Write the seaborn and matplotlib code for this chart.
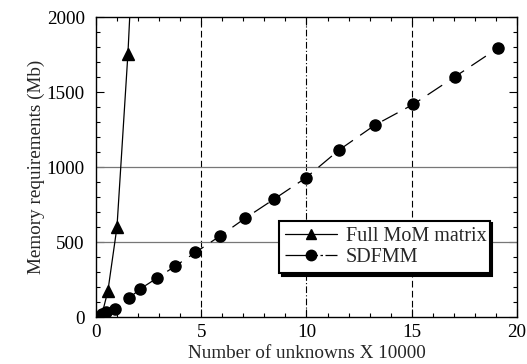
import numpy as np
import pandas as pd
import seaborn as sns
import matplotlib.pyplot as plt
from matplotlib.ticker import MultipleLocator

# 數據
mom_x = [0.27, 0.57, 1.0, 1.52]
mom_y = [8, 175, 600, 1755]
# 曲線延伸超出上緣
mom_curve_x = [0.0, 0.27, 0.57, 1.0, 1.52, 1.64]
mom_curve_y = [0, 8, 175, 600, 1755, 2100]

sdfmm_x = [0.27, 0.47, 0.9, 1.58, 2.1, 2.88, 3.75, 4.73, 5.89, 7.08,
           8.47, 9.96, 11.54, 13.25, 15.07, 17.05, 19.11]
sdfmm_y = [20, 35, 55, 127, 187, 258, 338, 431, 540, 658,
           787, 927, 1113, 1280, 1418, 1602, 1795]

x_ticks = [0, 5, 10, 15, 20]
y_ticks = [0, 500, 1000, 1500, 2000]

sns.set_style("ticks")
plt.rcParams['font.family'] = ['Liberation Serif', 'DejaVu Serif']

fig = plt.figure(figsize=(5.27, 3.64), dpi=100)
ax = fig.add_axes([0.182, 0.129, 0.799, 0.824])

# 參考線
for xv, ls in [(5, (0, (6, 3))), (10, (0, (6, 2, 1, 2))), (15, (0, (6, 3)))]:
    ax.axvline(xv, color='black', lw=0.8, ls=ls, zorder=1)
for yv in [500, 1000]:
    ax.axhline(yv, color='#777777', lw=0.9, zorder=1)

# Full MoM
sns.lineplot(x=mom_curve_x, y=mom_curve_y, ax=ax, color='black', lw=0.9,
             sort=False, estimator=None, legend=False, zorder=3)
ax.plot(mom_x, mom_y, ls='none', marker='^', ms=8, color='black', zorder=4)

# SDFMM
sns.lineplot(x=sdfmm_x, y=sdfmm_y, ax=ax, color='black', lw=0.9,
             linestyle=(0, (14, 7)), sort=False, estimator=None,
             legend=False, zorder=3)
ax.plot(sdfmm_x, sdfmm_y, ls='none', marker='o', ms=8, color='black', zorder=4)

# 圖例
h1, = ax.plot([], [], color='black', lw=0.9, marker='^', ms=6.5)
h2, = ax.plot([], [], color='black', lw=0.9, ls=(0, (26, 2, 2, 2)), marker='o', ms=7.5)
leg = ax.legend([h1, h2], ['Full MoM matrix', 'SDFMM'],
                loc='lower left', bbox_to_anchor=(0.435, 0.147, 0.5, 0.2),
                mode='expand', borderaxespad=0, fontsize=14.5, frameon=True,
                fancybox=False, shadow={'color': 'black', 'alpha': 1},
                framealpha=1, edgecolor='black', handlelength=2.6,
                borderpad=0.3, labelspacing=0.1, handletextpad=0.4)
leg.get_frame().set_linewidth(1.5)

ax.set_xlim(0, 20)
ax.set_ylim(0, 2000)
ax.set_xticks(x_ticks)
ax.set_yticks(y_ticks)
ax.xaxis.set_minor_locator(MultipleLocator(1))
ax.yaxis.set_minor_locator(MultipleLocator(100))
ax.tick_params(which='both', direction='in', top=True, right=True,
               labelsize=13.8, colors='black', width=0.8)
ax.tick_params(which='major', length=6)
ax.tick_params(which='minor', length=3)
ax.tick_params(axis='x', which='major', pad=5)
ax.tick_params(axis='y', which='major', pad=8)
for s in ax.spines.values():
    s.set_linewidth(1.0)
    s.set_color('black')

ax.set_xlabel('Number of unknowns X 10000', fontsize=13.8, labelpad=3)
ax.set_ylabel('Memory requirements (Mb)', fontsize=13.8, labelpad=1)

fig.savefig('out.png', dpi=100)
